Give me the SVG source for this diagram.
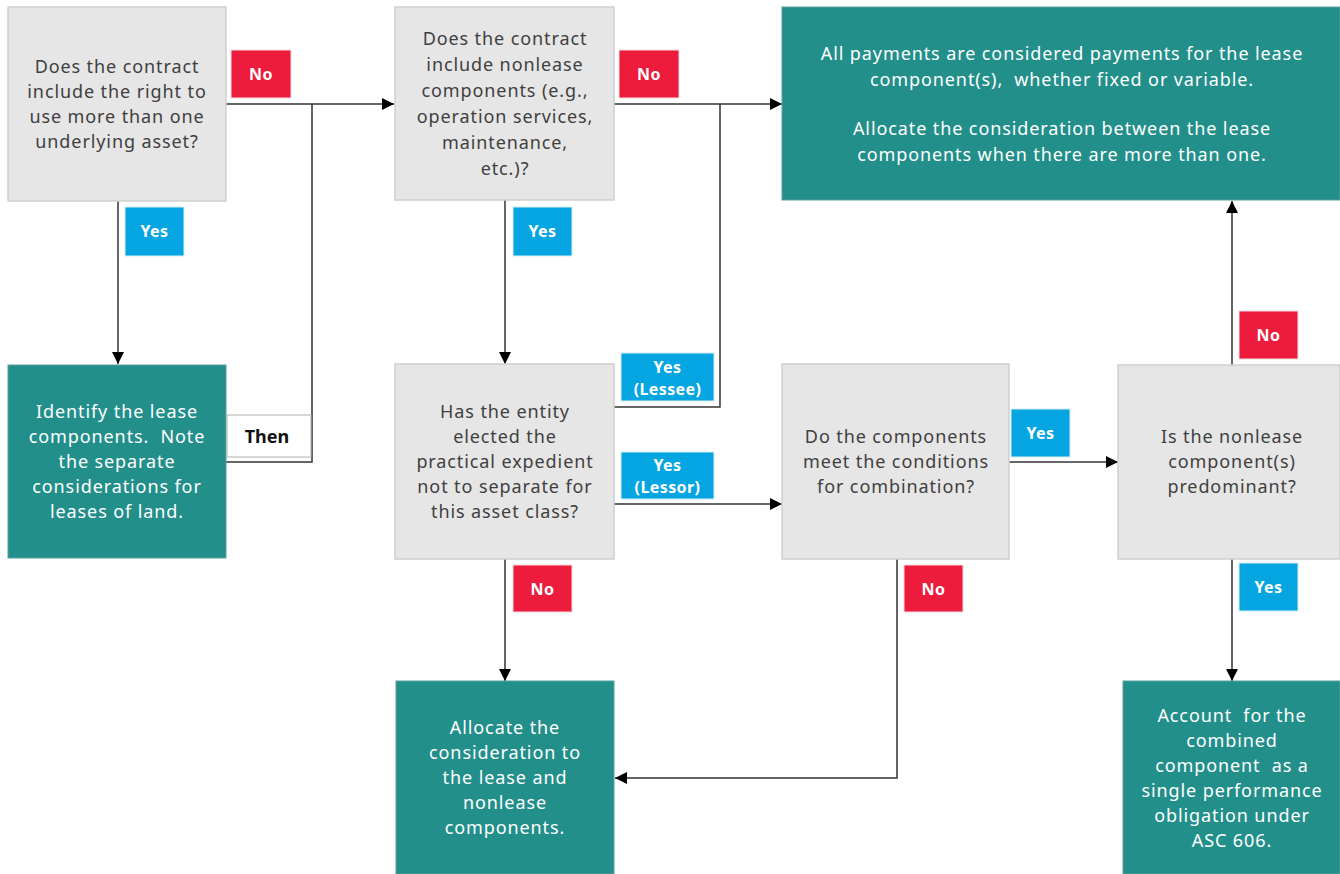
<svg xmlns="http://www.w3.org/2000/svg" width="1340" height="874" viewBox="0 0 1340 874">
<defs>
<marker id="arr" markerUnits="userSpaceOnUse" markerWidth="13" markerHeight="13" refX="12" refY="6" orient="auto">
<path d="M0,0 L12,6 L0,12 z" fill="#000"/>
</marker>
<style>
.q{fill:#e6e6e6;stroke:#cfcfcf;stroke-width:1.5}
.t{fill:#228f8a;stroke:#5a9f9c;stroke-width:1}
.qt{font-family:"Noto Sans","Open Sans",sans-serif;font-size:18px;letter-spacing:0.9px;fill:#404040;text-anchor:middle;white-space:pre}
.tt{font-family:"Noto Sans","Open Sans",sans-serif;font-size:18px;letter-spacing:0.9px;fill:#ffffff;text-anchor:middle;white-space:pre}
.no{fill:#ed1b3c;stroke:#f3dde0;stroke-width:1}
.yes{fill:#05a5e1;stroke:#d8eef7;stroke-width:1}
.lt{font-family:"Noto Sans","Open Sans",sans-serif;font-size:16px;font-weight:bold;letter-spacing:0.4px;fill:#ffffff;text-anchor:middle}
.c{fill:none;stroke:#333;stroke-width:1.5}
</style>
</defs>
<rect width="1340" height="874" fill="#ffffff"/>

<g id="connectors">
<path class="c" d="M226,104 H394" marker-end="url(#arr)"/>
<path class="c" d="M226,462 H312 V104"/>
<path class="c" d="M118,201 V364" marker-end="url(#arr)"/>
<path class="c" d="M614,104 H782" marker-end="url(#arr)"/>
<path class="c" d="M720,104 V407 H614"/>
<path class="c" d="M505,200 V364" marker-end="url(#arr)"/>
<path class="c" d="M614,504 H782" marker-end="url(#arr)"/>
<path class="c" d="M505,559 V681" marker-end="url(#arr)"/>
<path class="c" d="M897,559 V778 H615" marker-end="url(#arr)"/>
<path class="c" d="M1009,462 H1118" marker-end="url(#arr)"/>
<path class="c" d="M1232,365 V201" marker-end="url(#arr)"/>
<path class="c" d="M1232,559 V681" marker-end="url(#arr)"/>
</g>

<g id="q1">
<rect class="q" x="8" y="7" width="218" height="194"/>
<text class="qt"><tspan x="117" y="73">Does the contract</tspan><tspan x="117" y="98">include the right to</tspan><tspan x="117" y="123">use more than one</tspan><tspan x="117" y="148">underlying asset?</tspan></text>
</g>

<g id="q2">
<rect class="q" x="395" y="7" width="219" height="193"/>
<text class="qt"><tspan x="505" y="45">Does the contract</tspan><tspan x="505" y="71">include nonlease</tspan><tspan x="505" y="97">components (e.g.,</tspan><tspan x="505" y="123">operation services,</tspan><tspan x="505" y="149">maintenance,</tspan><tspan x="505" y="175">etc.)?</tspan></text>
</g>

<g id="r1">
<rect class="t" x="782" y="7" width="558" height="193"/>
<text class="tt"><tspan x="1062" y="60">All payments are considered payments for the lease</tspan><tspan x="1062" y="86">component(s),  whether fixed or variable.</tspan><tspan x="1062" y="135">Allocate the consideration between the lease</tspan><tspan x="1062" y="161">components when there are more than one.</tspan></text>
</g>

<g id="r2">
<rect class="t" x="8" y="365" width="218" height="193"/>
<text class="tt"><tspan x="117" y="418">Identify the lease</tspan><tspan x="117" y="443">components.  Note</tspan><tspan x="117" y="468">the separate</tspan><tspan x="117" y="493">considerations for</tspan><tspan x="117" y="518">leases of land.</tspan></text>
</g>

<g id="q3">
<rect class="q" x="395" y="364" width="219" height="195"/>
<text class="qt"><tspan x="505" y="418">Has the entity</tspan><tspan x="505" y="443">elected the</tspan><tspan x="505" y="468">practical expedient</tspan><tspan x="505" y="493">not to separate for</tspan><tspan x="505" y="518">this asset class?</tspan></text>
</g>

<g id="q4">
<rect class="q" x="782" y="364" width="227" height="195"/>
<text class="qt"><tspan x="896" y="443">Do the components</tspan><tspan x="896" y="468">meet the conditions</tspan><tspan x="896" y="493">for combination?</tspan></text>
</g>

<g id="q5">
<rect class="q" x="1118" y="365" width="222" height="194"/>
<text class="qt"><tspan x="1232" y="443">Is the nonlease</tspan><tspan x="1232" y="468">component(s)</tspan><tspan x="1232" y="493">predominant?</tspan></text>
</g>

<g id="r3">
<rect class="t" x="396" y="681" width="218" height="193"/>
<text class="tt"><tspan x="505" y="734">Allocate the</tspan><tspan x="505" y="759">consideration to</tspan><tspan x="505" y="784">the lease and</tspan><tspan x="505" y="809">nonlease</tspan><tspan x="505" y="834">components.</tspan></text>
</g>

<g id="r4">
<rect class="t" x="1123" y="681" width="217" height="193"/>
<text class="tt"><tspan x="1232" y="722">Account  for the</tspan><tspan x="1232" y="747">combined</tspan><tspan x="1232" y="772">component  as a</tspan><tspan x="1232" y="797">single performance</tspan><tspan x="1232" y="822">obligation under</tspan><tspan x="1232" y="847">ASC 606.</tspan></text>
</g>

<g id="labels">
<g id="l-no1"><rect class="no" x="231" y="50" width="60" height="48"/><text class="lt" x="261" y="80">No</text></g>
<g id="l-no2"><rect class="no" x="619" y="50" width="60" height="48"/><text class="lt" x="649" y="80">No</text></g>
<g id="l-yes1"><rect class="yes" x="125" y="207" width="59" height="49"/><text class="lt" x="154.5" y="237">Yes</text></g>
<g id="l-yes2"><rect class="yes" x="513" y="207" width="59" height="49"/><text class="lt" x="542.5" y="237">Yes</text></g>
<g id="l-then"><rect x="227" y="415" width="84" height="42" fill="#ffffff" stroke="#b0b0b0" stroke-width="1"/><text x="267" y="443" font-family="'Noto Sans','Open Sans',sans-serif" font-size="18" font-weight="bold" fill="#111" text-anchor="middle">Then</text></g>
<g id="l-lessee"><rect class="yes" x="621" y="353" width="93" height="48"/><text class="lt"><tspan x="667.5" y="373">Yes</tspan><tspan x="667.5" y="395">(Lessee)</tspan></text></g>
<g id="l-lessor"><rect class="yes" x="621" y="452" width="93" height="47"/><text class="lt"><tspan x="667.5" y="471">Yes</tspan><tspan x="667.5" y="493">(Lessor)</tspan></text></g>
<g id="l-yes3"><rect class="yes" x="1011" y="409" width="59" height="48"/><text class="lt" x="1040.5" y="439">Yes</text></g>
<g id="l-no3"><rect class="no" x="1239" y="311" width="59" height="48"/><text class="lt" x="1268.5" y="341">No</text></g>
<g id="l-no4"><rect class="no" x="513" y="565" width="59" height="47"/><text class="lt" x="542.5" y="595">No</text></g>
<g id="l-no5"><rect class="no" x="904" y="565" width="59" height="47"/><text class="lt" x="933.5" y="595">No</text></g>
<g id="l-yes4"><rect class="yes" x="1239" y="563" width="59" height="48"/><text class="lt" x="1268.5" y="593">Yes</text></g>
</g>
</svg>
